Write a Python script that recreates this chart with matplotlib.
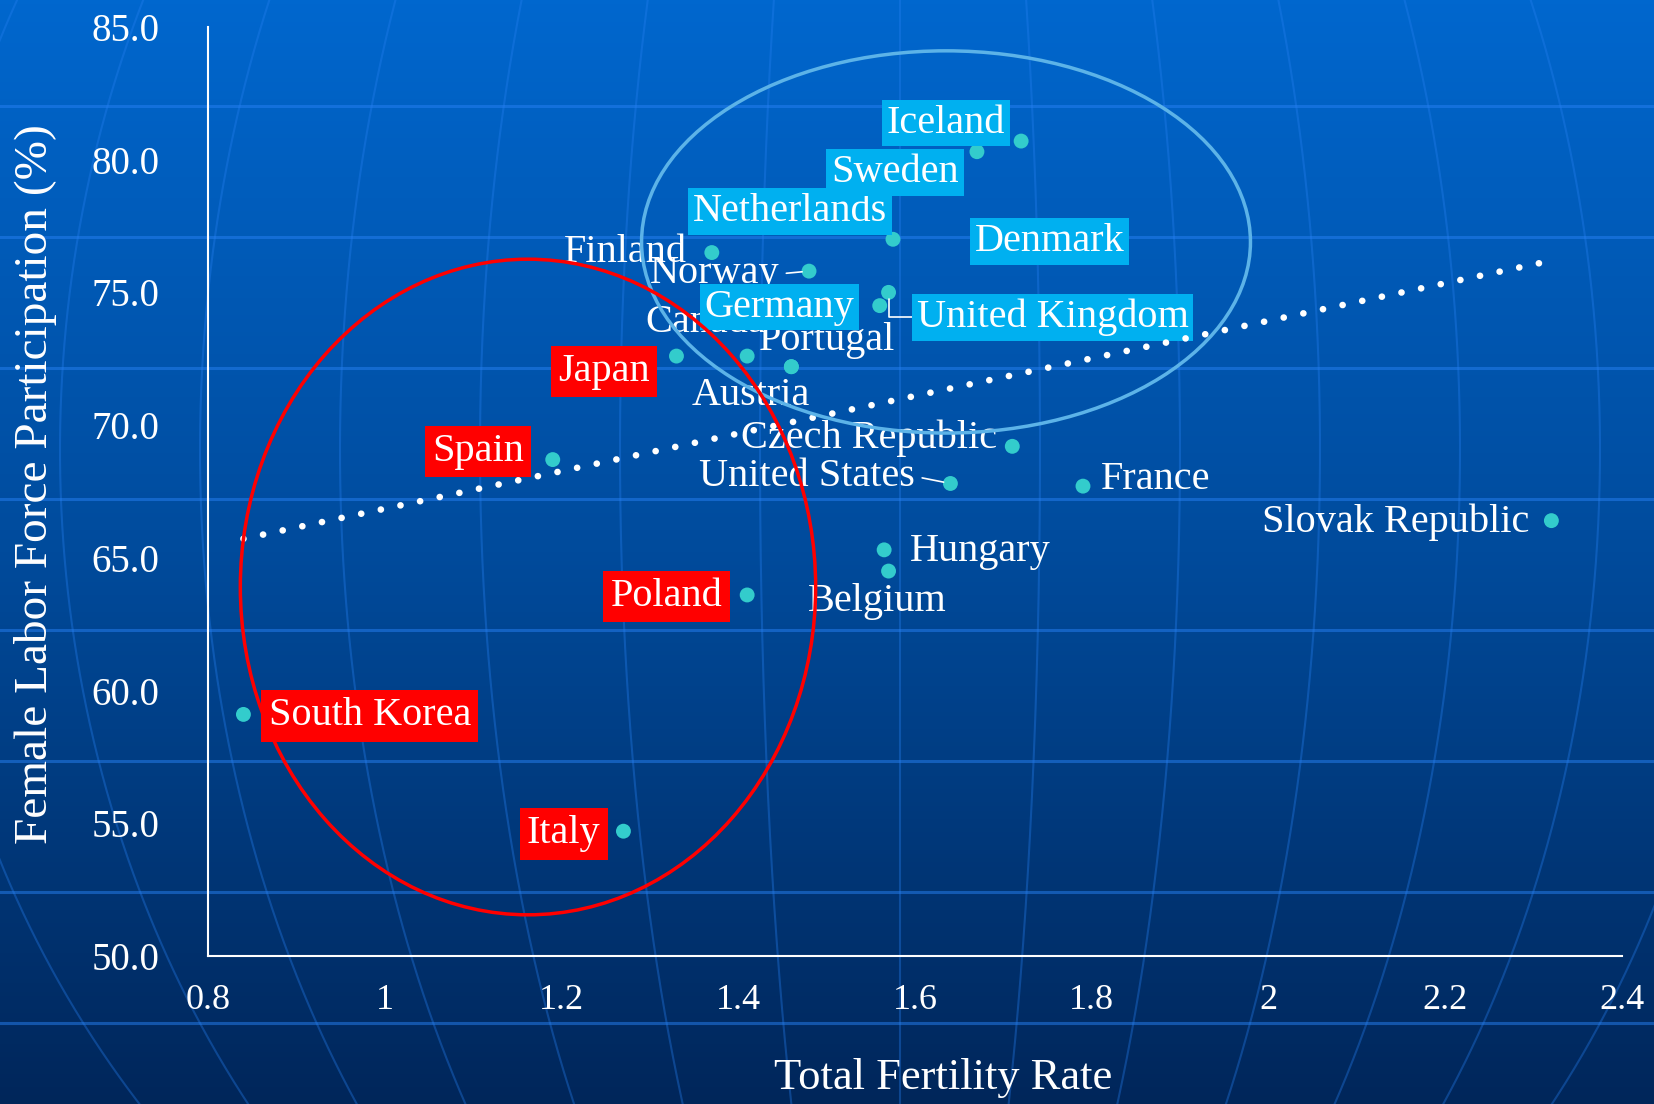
import numpy as np
import matplotlib
matplotlib.use('Agg')
import matplotlib.pyplot as plt
from matplotlib.patches import Ellipse
from matplotlib.ticker import FuncFormatter
from matplotlib.colors import LinearSegmentedColormap

plt.rcParams['font.family'] = ['Liberation Serif', 'DejaVu Serif']

countries = ['South Korea', 'Italy', 'Poland', 'Spain', 'Japan', 'Canada', 'Portugal',
             'Austria', 'Finland', 'Norway', 'Netherlands', 'Iceland', 'Sweden', 'Denmark',
             'Germany', 'United Kingdom', 'Czech Republic', 'United States', 'France',
             'Slovak Republic', 'Hungary', 'Belgium']
tfr = [0.84, 1.27, 1.41, 1.19, 1.33, 1.41, 1.46, 1.46, 1.37, 1.48, 1.575, 1.72, 1.67,
       1.70, 1.56, 1.57, 1.71, 1.64, 1.79, 2.32, 1.565, 1.57]
flfp = [59.1, 54.7, 63.6, 68.7, 72.6, 72.6, 72.2, 72.2, 76.5, 75.8, 77.0, 80.7, 80.3,
        76.5, 74.5, 75.0, 69.2, 67.8, 67.7, 66.4, 65.3, 64.5]

low_group = ['Japan', 'Spain', 'Poland', 'South Korea', 'Italy']
high_group = ['Iceland', 'Sweden', 'Netherlands', 'Denmark', 'Germany', 'United Kingdom']

xticks = [0.8, 1, 1.2, 1.4, 1.6, 1.8, 2, 2.2, 2.4]
yticks = [50, 55, 60, 65, 70, 75, 80, 85]

# label offsets from each point, in points
offsets = {
    'South Korea': (91, -1), 'Italy': (-43, -2), 'Poland': (-58, -1), 'Spain': (-54, 6),
    'Japan': (-52, -11), 'Canada': (-30, 24), 'Portugal': (26, 19), 'Austria': (-29, -21),
    'Finland': (-62, 0), 'Norway': (-68, -2), 'Netherlands': (-74, 20), 'Iceland': (-54, 13),
    'Sweden': (-59, -15), 'Denmark': (33, 8), 'Germany': (-72, -1),
    'United Kingdom': (118, -18), 'Czech Republic': (-103, 6), 'United States': (-103, 5),
    'France': (52, 5), 'Slovak Republic': (-112, -1), 'Hungary': (69, -1), 'Belgium': (-8, -22),
}

W, H = 1654, 1104
fig = plt.figure(figsize=(W / 100, H / 100), dpi=100)

# backdrop: vertical gradient with a faint globe grid
bg = fig.add_axes([0, 0, 1, 1], zorder=0)
grad = np.linspace(0, 1, 256).reshape(-1, 1)
cmap = LinearSegmentedColormap.from_list('bg', ['#0067CE', '#004B9C', '#00265A'])
bg.imshow(grad, cmap=cmap, aspect='auto', extent=[0, W, H, 0])
grid_col = (0.15, 0.5, 0.95)
cx, cy, b = 900, 450, 1037
yy = np.linspace(0, H, 400)
f = np.sqrt(1 - ((yy - cy) / b) ** 2)
for k in range(-7, 8):
    bg.plot(cx + 140 * k * f, yy, color=grid_col, alpha=0.35, lw=1.5)
for y0 in np.arange(106, H, 131):
    bg.axhline(y0, color=grid_col, alpha=0.5, lw=2.2)
bg.set_xlim(0, W)
bg.set_ylim(H, 0)
bg.axis('off')

ax = fig.add_axes([0.1258, 0.1341, 0.8549, 0.8415], zorder=1)
ax.patch.set_visible(False)

ax.scatter(tfr, flfp, s=115, color='#33CCCC', edgecolors='none', zorder=3)

for name, x, y in zip(countries, tfr, flfp):
    kw = dict(xy=(x, y), xytext=offsets[name], textcoords='offset points',
              ha='center', va='center', color='white', fontsize=29, zorder=4)
    if name in low_group:
        kw['bbox'] = dict(boxstyle='square,pad=0.18', fc='#FF0000', ec='none')
    elif name in high_group:
        kw['bbox'] = dict(boxstyle='square,pad=0.12', fc='#00B0F0', ec='none')
    if name in ('Norway', 'United States'):
        kw['arrowprops'] = dict(arrowstyle='-', color='white', lw=1.2, relpos=(1, 0.5),
                                shrinkA=3, shrinkB=5)
    elif name == 'United Kingdom':
        kw['arrowprops'] = dict(arrowstyle='-', color='white', lw=1.2, shrinkA=0, shrinkB=5,
                                connectionstyle='angle,angleA=0,angleB=90,rad=0')
    ax.annotate(name, **kw)

# linear trend
slope, intercept = np.polyfit(tfr, flfp, 1)
xs = np.array([min(tfr), max(tfr)])
ax.plot(xs, slope * xs + intercept, color='white', lw=4.8,
        linestyle=(0, (0.01, 3.0)), dash_capstyle='round', zorder=5)

ax.add_patch(Ellipse((1.635, 76.9), 0.689, 14.4, fill=False, ec='#5CB3E8', lw=2.5, zorder=6))
ax.add_patch(Ellipse((1.162, 63.9), 0.651, 24.7, fill=False, ec='#FF0000', lw=2.5, zorder=6))

ax.set_xlim(0.8, 2.4)
ax.set_ylim(50, 85)
ax.set_xticks(xticks)
ax.set_yticks(yticks)
ax.xaxis.set_major_formatter(FuncFormatter(lambda v, p: '%g' % v))
ax.yaxis.set_major_formatter(FuncFormatter(lambda v, p: '%.1f' % v))
ax.tick_params(axis='both', length=0, colors='white', labelsize=26)
ax.tick_params(axis='x', pad=20)
ax.tick_params(axis='y', pad=35, labelsize=28)

for side in ('top', 'right'):
    ax.spines[side].set_visible(False)
for side in ('left', 'bottom'):
    ax.spines[side].set_color('white')
    ax.spines[side].set_linewidth(1.5)

ax.set_xlabel('Total Fertility Rate', color='white', fontsize=32)
ax.set_ylabel('Female Labor Force Participation (%)', color='white', fontsize=34)
ax.xaxis.set_label_coords(0.52, -0.131)
ax.yaxis.set_label_coords(-0.122, 0.508)
ax.xaxis.label.set_va('center')
ax.yaxis.label.set_va('center')

fig.savefig('out.png', dpi=100)
